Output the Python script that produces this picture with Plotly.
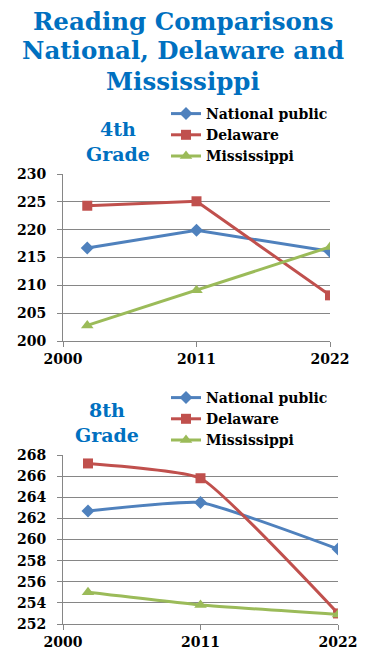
import plotly.graph_objects as go

years = [2002, 2011, 2022]
x_tick_vals = [2000, 2011, 2022]
x_tick_labels = ["2000", "2011", "2022"]

series_names = ["National public", "Delaware", "Mississippi"]

g4_national = [216.7, 219.9, 216.1]
g4_delaware = [224.3, 225.1, 208.2]
g4_mississippi = [202.8, 209.1, 216.9]

g8_national = [262.7, 263.5, 259.1]
g8_delaware = [267.2, 265.8, 253.0]
g8_mississippi = [255.0, 253.8, 252.9]

title_lines = ["Reading Comparisons", "National, Delaware and", "Mississippi"]

# page body has an 8px margin, so the figure is laid out in a 358x650 box
OFF = 8
W, H = 366 - OFF, 658 - OFF
colors = ["#4F81BD", "#C0504D", "#9BBB59"]
symbols = ["diamond", "square", "triangle-up"]
sizes = [10, 10, 11]
SERIF = "DejaVu Serif"
BLUE = "#0070C0"

def px(x):
    return (x - OFF) / W

def py(y):
    return 1 - (y - OFF) / H

fig = go.Figure()

for vals, name, c, s, sz in zip([g4_national, g4_delaware, g4_mississippi], series_names, colors, symbols, sizes):
    fig.add_trace(go.Scatter(x=years, y=vals, name=name, mode="lines+markers",
                             line=dict(color=c, width=3),
                             marker=dict(symbol=s, size=sz, color=c),
                             xaxis="x", yaxis="y", legend="legend"))

for vals, name, c, s, sz in zip([g8_national, g8_delaware, g8_mississippi], series_names, colors, symbols, sizes):
    fig.add_trace(go.Scatter(x=years, y=vals, name=name, mode="lines+markers",
                             line=dict(color=c, width=3, shape="spline", smoothing=0.4),
                             marker=dict(symbol=s, size=sz, color=c),
                             xaxis="x2", yaxis="y2", legend="legend2"))

tickfont = dict(family=SERIF, size=14, color="black", weight="bold")
axis_common = dict(showgrid=False, showline=True, linecolor="#868686", linewidth=1,
                   ticks="outside", ticklen=5, tickcolor="#868686", automargin=False,
                   tickfont=tickfont, zeroline=False)
yaxis_common = dict(showgrid=True, gridcolor="#868686", gridwidth=1, showline=True,
                    linecolor="#868686", linewidth=1, ticks="outside", ticklen=5,
                    tickcolor="#868686", tickfont=tickfont,
                    zeroline=False, ticklabelstandoff=8, automargin=False)
legfont = dict(family=SERIF, size=14, color="black", weight="bold")

annotations = []
for line, yc in zip(title_lines, [22, 51, 81]):
    annotations.append(dict(text="<b>" + line + "</b>", x=px(183), y=py(yc), xref="paper",
                            yref="paper", xanchor="center", yanchor="middle", showarrow=False,
                            font=dict(family=SERIF, size=24.5, color=BLUE)))
annotations += [
    dict(text="<b>4th<br>Grade</b>", x=px(118), y=py(116), xref="paper", yref="paper",
         xanchor="center", yanchor="top", showarrow=False,
         font=dict(family=SERIF, size=19, color=BLUE)),
    dict(text="<b>8th<br>Grade</b>", x=px(107), y=py(397), xref="paper", yref="paper",
         xanchor="center", yanchor="top", showarrow=False,
         font=dict(family=SERIF, size=19, color=BLUE)),
]

fig.update_layout(
    width=W, height=H, margin=dict(l=0, r=0, t=0, b=0, autoexpand=False),
    paper_bgcolor="white", plot_bgcolor="white",
    showlegend=True,
    xaxis=dict(domain=[px(63), px(330)], range=[2000, 2022], tickvals=x_tick_vals,
               ticktext=x_tick_labels, anchor="y", **axis_common),
    yaxis=dict(domain=[py(341), py(174)], range=[200, 230], dtick=5, anchor="x", **yaxis_common),
    xaxis2=dict(domain=[px(63), px(338)], range=[2000, 2022], tickvals=x_tick_vals,
                ticktext=x_tick_labels, anchor="y2", **axis_common),
    yaxis2=dict(domain=[py(624), py(455)], range=[252, 268], dtick=2, anchor="x2", **yaxis_common),
    legend=dict(x=px(166), y=py(98), xanchor="left", yanchor="top",
                font=legfont, bgcolor="rgba(0,0,0,0)", tracegroupgap=0),
    legend2=dict(x=px(166), y=py(382), xanchor="left", yanchor="top",
                 font=legfont, bgcolor="rgba(0,0,0,0)", tracegroupgap=0),
    annotations=annotations,
)

fig.write_html("out.html")
